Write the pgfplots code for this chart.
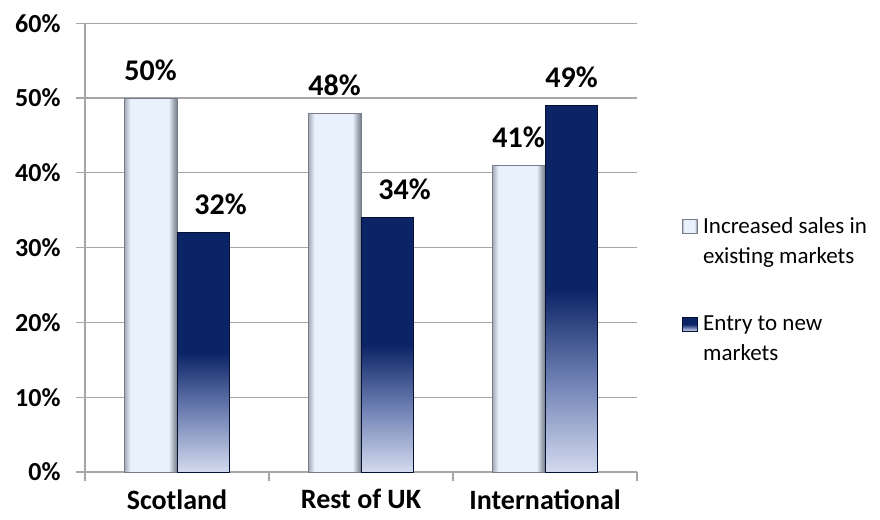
\documentclass[border=0pt]{standalone}
\usepackage{pgfplots}
\pgfplotsset{compat=1.18}
\usepackage{fontspec}
\setmainfont{Carlito}

\definecolor{lbFace}{HTML}{E8F1FC}
\definecolor{lbEdgeL}{HTML}{9EA5B0}
\definecolor{lbEdgeR}{HTML}{767D88}
\definecolor{navy}{HTML}{0B2466}
\definecolor{navyMid}{HTML}{7384B6}
\definecolor{navyLight}{HTML}{D3DAEE}
\definecolor{gridgray}{HTML}{A6A6A6}

\pgfdeclarehorizontalshading{lightbevel}{100bp}{color(0bp)=(lbEdgeL); color(25bp)=(lbEdgeL); color(31bp)=(lbFace); color(67bp)=(lbFace); color(75bp)=(lbEdgeR); color(100bp)=(lbEdgeR)}
\pgfdeclareverticalshading{darkgrad}{100bp}{color(0bp)=(navyLight); color(25bp)=(navyLight); color(37bp)=(navyMid); color(50bp)=(navy); color(100bp)=(navy)}

\pgfplotsset{
  lightbar/.style={shade, shading=lightbevel, draw=lbEdgeR, line width=0.8pt, bar shift=-0.144},
  darkbar/.style={shade, shading=darkgrad, draw=navy!50!black, line width=1pt, bar shift=0.144},
}

\begin{document}
\begin{tikzpicture}
\path[use as bounding box] (0,0) rectangle (880pt,519pt);
\begin{axis}[
  at={(85pt,47pt)}, anchor=south west,
  scale only axis, width=552pt, height=448.7pt,
  ybar=0pt, bar width=0.288,
  xmin=-0.5, xmax=2.5, ymin=0, ymax=60,
  xtick={-0.5,0.5,1.5,2.5}, xticklabels={},
  extra x ticks={0,1,2},
  extra x tick labels={Scotland, Rest of UK, International},
  extra x tick style={major tick length=0pt, tick style={draw=none},
     tick label style={font=\fontsize{28}{32}\bfseries\selectfont, yshift=-14pt}},
  ytick={0,10,...,60},
  yticklabel={\pgfmathprintnumber{\tick}\%},
  yticklabel style={font=\fontsize{26}{30}\bfseries\selectfont, xshift=-12pt},
  axis lines*=left,
  ymajorgrids,
  grid style={gridgray, line width=1.2pt},
  axis line style={gridgray, line width=1.2pt},
  tick style={gridgray, line width=1.2pt},
  tick align=outside,
  major tick length=9pt,
  /pgf/number format/assume math mode=true,
  nodes near coords={\pgfmathprintnumber{\pgfplotspointmeta}\%},
  nodes near coords style={font=\fontsize{30}{32}\bfseries\selectfont, yshift=14pt, text=black},
  legend style={draw=none, fill=none, at={(1.076,0.576)}, anchor=north west,
     font=\fontsize{23}{30}\selectfont, row sep=47pt, cells={align=left, anchor=west}},
  legend cell align=left,
  legend image code/.code={%
     \pgfpathrectangle{\pgfpoint{0pt}{-7pt}}{\pgfpoint{19pt}{15pt}}\pgfusepath{use as bounding box}%
     \draw[#1, line width=0.5pt, overlay] (0pt,8pt) rectangle (15pt,22pt);},
]
\addplot[lightbar] coordinates {(0,50)};
\addlegendentry{Increased sales in\\existing markets}
\addplot[darkbar, nodes near coords style={xshift=17pt}] coordinates {(0,32)};
\addlegendentry{Entry to new\\markets}
\addplot[lightbar, forget plot] coordinates {(1,48)};
\addplot[darkbar, forget plot, nodes near coords style={xshift=17pt}] coordinates {(1,34)};
\addplot[lightbar, forget plot] coordinates {(2,41)};
\addplot[darkbar, forget plot] coordinates {(2,49)};
\end{axis}
\end{tikzpicture}
\end{document}
